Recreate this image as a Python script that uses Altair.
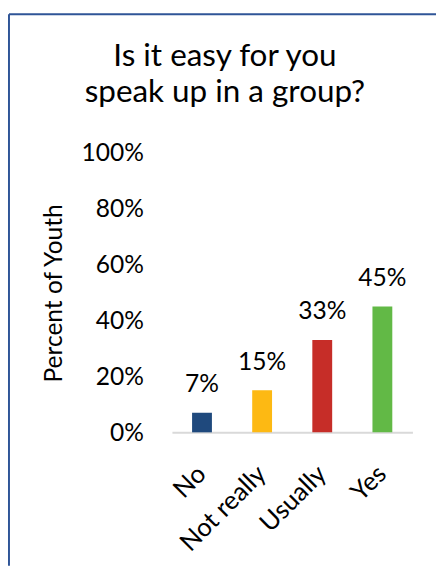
import altair as alt
import pandas as pd

categories = ["No", "Not really", "Usually", "Yes"]
values = [0.07, 0.15, 0.33, 0.45]
colors = ["#1F497D", "#FDB913", "#C62D28", "#62B946"]
y_ticks = [0, 0.2, 0.4, 0.6, 0.8, 1.0]
title_lines = ["Is it easy for you", "speak up in a group?"]
y_title = "Percent of Youth"

df = pd.DataFrame({"cat": categories, "val": values})

FONT = "Lato"

x_enc = alt.X(
    "cat:N",
    sort=categories,
    scale=alt.Scale(paddingInner=0.67, paddingOuter=0.335),
    axis=alt.Axis(
        title=None,
        labelAngle=-45,
        labelAlign="right",
        labelBaseline="middle",
        labelFontSize=26,
        labelFont=FONT,
        labelColor="black",
        labelPadding=38,
        ticks=False,
        domainColor="#d9d9d9",
        domainWidth=2,
        grid=False,
    ),
)
y_enc = alt.Y(
    "val:Q",
    scale=alt.Scale(domain=[0, 1]),
    axis=alt.Axis(
        values=y_ticks,
        format=".0%",
        domain=False,
        ticks=False,
        grid=False,
        labelFontSize=25,
        labelFont=FONT,
        labelColor="black",
        labelPadding=29,
        title=y_title,
        titleFont=FONT,
        titleFontSize=25,
        titleFontWeight="normal",
        titleColor="black",
        titleX=-120,
        titleY=143,
        titleBaseline="middle",
    ),
)

base = alt.Chart(df).encode(x=x_enc, y=y_enc)

bars = base.mark_bar().encode(
    color=alt.Color("cat:N", sort=categories,
                    scale=alt.Scale(domain=categories, range=colors), legend=None)
)
labels = base.mark_text(baseline="alphabetic", dy=-21, fontSize=25, font=FONT,
                        color="black").encode(text=alt.Text("val:Q", format=".0%"))

one_row = pd.DataFrame({"k": [0]})
left_border = alt.Chart(one_row).mark_rule(color="#2F5597", strokeWidth=2).encode(
    x=alt.value(-166), y=alt.value(-141), y2=alt.value(421)
)
top_border = alt.Chart(one_row).mark_rule(color="#2F5597", strokeWidth=2).encode(
    x=alt.value(-166), x2=alt.value(269), y=alt.value(-141)
)
title1 = alt.Chart(one_row).mark_text(
    fontSize=32, font=FONT, color="black", align="center", baseline="alphabetic"
).encode(x=alt.value(54), y=alt.value(-88), text=alt.value(title_lines[0]))
title2 = alt.Chart(one_row).mark_text(
    fontSize=32, font=FONT, color="black", align="center", baseline="alphabetic"
).encode(x=alt.value(54), y=alt.value(-52), text=alt.value(title_lines[1]))

chart = alt.layer(bars, labels, left_border, top_border, title1, title2).properties(
    width=245,
    height=285,
    autosize=alt.AutoSizeParams(type="none"),
    padding={"left": 167, "top": 142, "right": 24, "bottom": 136},
).configure_view(stroke=None)

chart.save("out.html", embed_options={"renderer": "svg", "actions": False})
